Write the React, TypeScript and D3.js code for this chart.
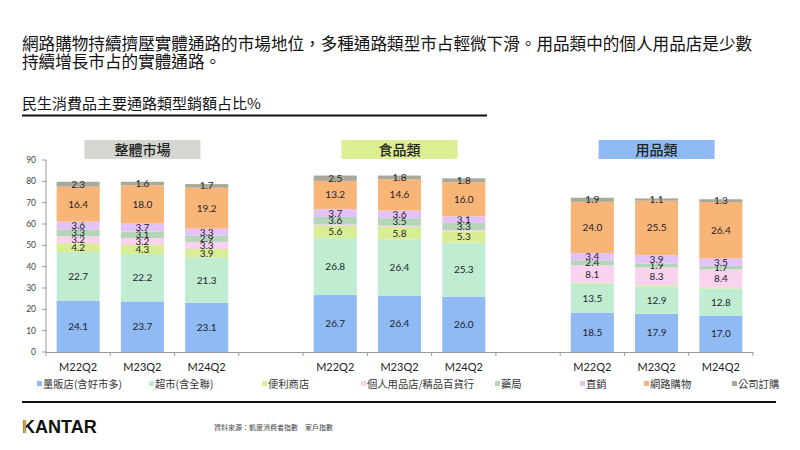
import React from "react";
import * as d3 from "d3";

const seriesNames = ["量販店(含好市多)", "超市(含全聯)", "便利商店", "個人用品店/精品百貨行", "藥局", "直銷", "網路購物", "公司訂購"];
const seriesColors = ["#8fbaf4", "#c0edd2", "#d9ed94", "#f9d3ee", "#b5d5b9", "#e3c3f7", "#f8b577", "#a9a99b"];
const periods = ["M22Q2", "M23Q2", "M24Q2"];
const groupNames = ["整體市場", "食品類", "用品類"];
const groupColors = ["#d6d6d0", "#dcee93", "#8fbaf4"];

// values per group, per period, in series order
const totalMarket = [
  [24.1, 22.7, 4.2, 3.2, 3.3, 3.6, 16.4, 2.3],
  [23.7, 22.2, 4.3, 3.2, 3.1, 3.7, 18.0, 1.6],
  [23.1, 21.3, 3.9, 3.3, 2.9, 3.3, 19.2, 1.7],
];
const foodGoods = [
  [26.7, 26.8, 5.6, 0.6, 3.6, 3.7, 13.2, 2.5],
  [26.4, 26.4, 5.8, 0.6, 3.5, 3.6, 14.6, 1.8],
  [26.0, 25.3, 5.3, 0.6, 3.3, 3.1, 16.0, 1.8],
];
const dailyGoods = [
  [18.5, 13.5, 0.5, 8.1, 2.4, 3.4, 24.0, 1.9],
  [17.9, 12.9, 0.5, 8.3, 1.9, 3.9, 25.5, 1.1],
  [17.0, 12.8, 0.5, 8.4, 1.7, 3.5, 26.4, 1.3],
];
const groups = [totalMarket, foodGoods, dailyGoods];
const yTicks = [0, 10, 20, 30, 40, 50, 60, 70, 80, 90];
const legendX = [37, 149, 262, 361, 495, 580, 644, 732];

const CJK = "'Noto Sans CJK TC', 'Noto Sans', sans-serif";
const GEO = "Lato, 'Open Sans', sans-serif";

export default function App() {
  const slots: string[] = [];
  groups.forEach((_, gi) => {
    if (gi > 0) slots.push(`gap${gi}`);
    periods.forEach((p) => slots.push(`${gi}-${p}`));
  });
  const x = d3.scaleBand<string>().domain(slots).range([46, 753]).paddingInner(0.33).paddingOuter(0.165);
  const y = d3.scaleLinear().domain([0, 90]).range([352, 160]);
  const step = x.step();
  const boundaries = d3.range(slots.length + 1).map((i) => 46 + i * step);

  return (
    <svg width={800} height={450} style={{ position: "absolute", left: 0, top: 0, background: "#fff" }}>
      <text x={22} y={50} fontFamily={CJK} fontSize={16.6} fill="#111">
        網路購物持續擠壓實體通路的市場地位，多種通路類型市占輕微下滑。用品類中的個人用品店是少數
      </text>
      <text x={22} y={68} fontFamily={CJK} fontSize={16.6} fill="#111">
        持續增長市占的實體通路。
      </text>
      <text x={22} y={109} fontFamily={CJK} fontSize={15} fill="#111">
        民生消費品主要通路類型銷額占比%
      </text>
      <line x1={22} x2={487} y1={115.5} y2={115.5} stroke="#111" strokeWidth={2} />

      {/* y axis */}
      <line x1={46} x2={46} y1={160} y2={352} stroke="#999" />
      {yTicks.map((t) => (
        <g key={t}>
          <line x1={42} x2={46} y1={y(t)} y2={y(t)} stroke="#999" />
          <text x={36} y={y(t) + 3} textAnchor="end" fontFamily={GEO} fontSize={8.5} fill="#444">
            {t}
          </text>
        </g>
      ))}
      {/* x axis */}
      <line x1={46} x2={753} y1={352.5} y2={352.5} stroke="#999" />
      {boundaries.map((b, i) => (
        <line key={i} x1={b} x2={b} y1={352} y2={356} stroke="#999" />
      ))}

      {/* group headers */}
      {groupNames.map((g, gi) => {
        const cx = (x(`${gi}-${periods[1]}`) as number) + x.bandwidth() / 2;
        return (
          <g key={g}>
            <rect x={cx - 58} y={140} width={116} height={19} fill={groupColors[gi]} />
            <text x={cx} y={155} textAnchor="middle" fontFamily={CJK} fontSize={14} fontWeight={500} fill="#222">
              {g}
            </text>
          </g>
        );
      })}

      {/* bars */}
      {groups.map((rows, gi) =>
        rows.map((vals, pi) => {
          const key = `${gi}-${periods[pi]}`;
          const bx = x(key) as number;
          const bw = x.bandwidth();
          let acc = 0;
          return (
            <g key={key}>
              {vals.map((v, si) => {
                const y0 = y(acc);
                const y1 = y(acc + v);
                acc += v;
                return (
                  <g key={si}>
                    <rect x={bx} y={y1} width={bw} height={y0 - y1} fill={seriesColors[si]} />
                    {v >= 1 && (
                      <text x={bx + bw / 2} y={(y0 + y1) / 2 + 3.5} textAnchor="middle" fontFamily={GEO} fontSize={10} fill="#1e1e2a">
                        {v.toFixed(1)}
                      </text>
                    )}
                  </g>
                );
              })}
              <text x={bx + bw / 2} y={371} textAnchor="middle" fontFamily={GEO} fontSize={11} fill="#222">
                {periods[pi]}
              </text>
            </g>
          );
        })
      )}

      {/* legend */}
      {seriesNames.map((n, i) => (
        <g key={n}>
          <rect x={legendX[i]} y={381} width={5} height={5} fill={seriesColors[i]} />
          <text x={legendX[i] + 6} y={388} fontFamily={CJK} fontSize={10.3} fill="#333">
            {n}
          </text>
        </g>
      ))}

      {/* footer */}
      <line x1={22} x2={776} y1={402} y2={402} stroke="#111" strokeWidth={2} />
      <text x={22} y={433} fontFamily="'Liberation Sans', Arial, sans-serif" fontWeight={700} fontSize={18} fill="#111">
        KANTAR
      </text>
      <rect x={23.3} y={420} width={2.6} height={13} fill="#c9a64c" />
      <text x={214} y={430} fontFamily={CJK} fontSize={7} fill="#444">
        資料來源：凱度消費者指數　家戶指數
      </text>
    </svg>
  );
}
